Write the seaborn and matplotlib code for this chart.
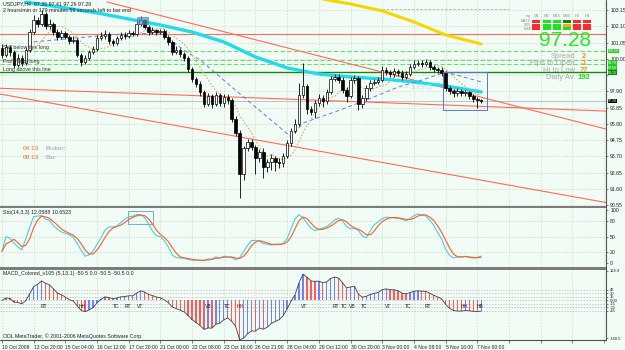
import numpy as np
import pandas as pd
import matplotlib
matplotlib.use("Agg")
import matplotlib.pyplot as plt
from matplotlib.patches import Rectangle
from matplotlib.lines import Line2D
import seaborn as sns

# ---------------- data (USDJPY H4) ----------------
opens = [100.70,100.25,100.76,100.44,99.60,100.05,99.73,100.57,101.73,102.50,
102.25,102.89,102.12,102.25,101.73,101.41,101.67,101.41,101.15,101.21,
100.25,99.80,100.05,100.44,100.63,101.34,101.47,101.60,101.15,101.02,
101.34,101.54,101.47,101.67,101.60,102.25,102.50,102.05,101.73,101.86,
101.73,101.80,101.41,101.09,100.44,100.57,100.31,100.05,99.34,98.70,
98.38,97.86,97.09,97.60,97.09,97.67,97.15,97.54,97.34,96.12,
95.21,92.57,94.25,94.63,94.31,93.60,93.99,93.02,93.34,93.60,
93.34,93.27,93.73,94.56,95.34,95.79,97.67,98.25,96.76,96.57,
97.15,97.47,97.28,97.86,98.70,98.83,98.63,97.99,97.60,98.63,
98.76,97.09,97.47,98.12,98.44,98.51,98.63,99.28,99.15,99.02,
99.22,99.09,98.83,99.02,99.47,99.67,99.73,99.67,99.80,99.47,
99.34,99.28,99.09,98.12,97.92,97.80,97.92,97.80,97.86,97.60,
97.41,97.34]
closes = [100.25,100.76,100.44,99.60,100.05,99.73,100.57,101.73,102.50,102.25,
102.89,102.12,102.25,101.73,101.41,101.67,101.41,101.15,101.21,100.25,
99.80,100.05,100.44,100.63,101.34,101.47,101.60,101.15,101.02,101.34,
101.54,101.47,101.67,101.60,102.25,102.50,102.05,101.73,101.86,101.73,
101.80,101.41,101.09,100.44,100.57,100.31,100.05,99.34,98.70,98.38,
97.86,97.09,97.60,97.09,97.67,97.15,97.54,97.34,96.12,95.21,
92.57,94.25,94.63,94.31,93.60,93.99,93.02,93.34,93.60,93.34,
93.27,93.73,94.56,95.34,95.79,97.67,98.25,96.76,96.57,97.15,
97.47,97.28,97.86,98.70,98.83,98.63,97.99,97.60,98.63,98.76,
97.09,97.47,98.12,98.44,98.51,98.63,99.28,99.15,99.02,99.22,
99.09,98.83,99.02,99.47,99.67,99.73,99.67,99.80,99.47,99.34,
99.28,99.09,98.12,97.92,97.80,97.92,97.80,97.86,97.60,97.41,
97.34,97.28]
highs = [100.95,100.98,100.90,100.60,100.30,100.22,100.75,101.95,102.80,102.70,
103.15,103.00,102.55,102.40,101.90,101.85,101.80,101.55,101.45,101.35,
100.40,100.25,100.60,100.85,101.55,101.75,101.85,101.70,101.30,101.50,
101.70,101.70,101.85,101.80,102.45,102.75,102.60,102.15,102.05,101.95,
101.95,101.90,101.55,101.20,100.80,100.70,100.45,100.15,99.45,98.85,
98.55,98.00,97.80,97.75,97.85,97.80,97.70,97.70,97.45,96.30,
95.40,94.40,94.85,94.80,94.45,94.20,94.25,93.55,93.85,93.75,
93.60,93.95,94.75,95.55,96.10,98.44,99.73,98.40,96.95,97.35,
97.70,97.65,98.05,98.90,99.05,99.00,98.80,98.15,98.85,98.95,
98.90,97.65,98.30,98.65,98.70,98.85,99.55,99.45,99.30,99.40,
99.35,99.25,99.20,99.65,99.90,99.95,99.90,100.00,99.90,99.60,
99.50,99.45,99.20,98.25,98.05,98.10,98.05,98.00,97.95,97.70,
97.55,97.40]
lows = [100.05,100.12,100.20,99.40,99.45,99.55,99.62,100.45,101.60,102.05,
102.10,101.95,101.90,101.55,101.20,101.30,101.25,100.95,101.00,100.10,
99.55,99.65,99.90,100.30,100.50,101.20,101.30,100.95,100.85,100.90,
101.20,101.30,101.35,101.45,101.50,102.10,101.90,101.55,101.60,101.55,
101.60,101.25,100.90,100.25,100.30,100.10,99.85,99.15,98.50,98.15,
97.60,96.90,96.95,96.85,96.95,96.95,96.90,97.10,95.95,95.00,
91.02,92.20,94.05,94.10,92.60,93.35,92.30,92.70,92.85,92.75,
92.95,93.05,93.60,94.40,95.20,95.65,97.50,96.45,96.35,96.20,
96.95,96.90,97.10,97.75,98.55,98.45,97.80,97.20,97.45,98.45,
96.70,96.85,97.30,97.95,98.30,98.35,98.50,98.95,98.80,98.85,
98.90,98.65,98.70,98.90,99.35,99.55,99.50,99.55,99.30,99.15,
99.10,98.90,97.95,97.70,97.55,97.60,97.60,97.60,97.40,97.20,
96.83,97.15]

date_labels = ["10 Oct 2008", "13 Oct 20:00", "15 Oct 04:00", "16 Oct 12:00",
               "17 Oct 20:00", "21 Oct 00:00", "22 Oct 08:00", "23 Oct 16:00",
               "26 Oct 21:00", "28 Oct 04:00", "29 Oct 12:00", "30 Oct 20:00",
               "3 Nov 00:00", "4 Nov 08:00", "5 Nov 16:00", "7 Nov 00:00"]
price_ticks = [103.15, 102.10, 101.05, 100.00, 98.95, 97.90, 96.85, 95.80,
               94.75, 93.70, 92.65, 91.60, 90.55]
sto_ticks = [100, 80, 50, 20, 0]
macd_levels = [45, 30, 15, 0, -15, -30, -45]
macd_extremes = [124.9, -160.5]

# long moving averages
cyan_bars = [6, 16, 24, 32, 40, 48, 56, 64, 72, 80, 88, 96, 104, 112, 121]
cyan_vals = [103.66, 103.28, 102.96, 102.57, 102.18, 101.73, 101.09, 100.12,
             99.41, 99.02, 98.83, 98.70, 98.51, 98.25, 97.86]
yellow_bars = [81, 88, 96, 104, 112, 121]
yellow_vals = [103.85, 103.54, 103.09, 102.38, 101.54, 100.96]
blue_bars = [8, 27, 40, 47, 50, 53, 58, 67, 73, 76, 84, 92, 100, 106, 112, 121]
blue_vals = [101.09, 101.54, 101.67, 100.38, 99.93, 99.28, 98.18, 96.25, 94.96,
             95.86, 96.57, 97.34, 98.18, 98.63, 99.15, 98.51]

# trend lines (start bar, start price, end bar, end price)
trend_lines = [(26.5, 103.67, 152.5, 95.47),
               (-0.5, 98.10, 152.5, 96.63),
               (-0.5, 97.73, 152.5, 90.73)]
grey_dashed = (95, 103.22, 128, 103.22)
red_level = 101.60
green_dashed_levels = [100.50, 99.92, 99.67]
green_solid_level = 99.15
bid = 97.28

macd_marks = [(10.6, "RT"), (20.2, "HH"), (28.8, "TC"), (31.8, "RT"), (34.8, "VT"),
              (52.0, "VB"), (57.0, "TC"), (60.0, "HH"), (76.3, "VT"), (84.3, "RT"),
              (86.4, "TC"), (88.4, "VB"), (91.4, "TC"), (97.5, "VT"), (102.5, "TC"),
              (107.6, "RT"), (116.7, "HH"), (120.7, "HB")]

sig_cols = ["M1", "M5", "M15", "M30", "H1", "H4"]
sig_rows = ["MACD", "STR", "EMA"]
sig_colors = [["r", "g", "g", "d", "r", "r"],
              ["r", "g", "g", "o", "r", "r"],
              ["r", "g", "g", "g", "r", "r"]]

# ---------------- style ----------------
sns.set_theme(style="white")
plt.rcParams['font.family'] = ['Liberation Sans', 'DejaVu Sans']
BG = '#f2fcf7'
GRID = '#cdd8a8'

o = np.array(opens); c = np.array(closes); h = np.array(highs); l = np.array(lows)
n = len(c)
xb = np.arange(n)
df = pd.DataFrame({"bar": xb, "open": o, "high": h, "low": l, "close": c})

# indicators computed from the price arrays
df["ma8"] = df["close"].rolling(8).mean()
ll = df["low"].rolling(14, min_periods=1).min()
hh = df["high"].rolling(14, min_periods=1).max()
num = (df["close"] - ll).rolling(3, min_periods=1).sum()
den = (hh - ll).rolling(3, min_periods=1).sum()
df["k"] = 100 * num / den
df["d"] = df["k"].rolling(3, min_periods=1).mean()
ema5 = df["close"].ewm(span=5, adjust=False).mean()
ema13 = df["close"].ewm(span=13, adjust=False).mean()
df["macd"] = (ema5 - ema13) * 100

W, H = 625, 350
fig = plt.figure(figsize=(6.25, 3.5), dpi=100)
fig.patch.set_facecolor(BG)

def fx(x): return x / W
def fy(y): return 1 - y / H

ax_m = fig.add_axes([0, fy(205.5), fx(606), 205.5 / H])
ax_s = fig.add_axes([0, fy(266.5), fx(606), 58.5 / H])
ax_d = fig.add_axes([0, fy(340), fx(606), 70.5 / H])

XL = (-0.5, 152.5)
for ax in (ax_m, ax_s, ax_d):
    ax.set_facecolor(BG)
    ax.set_xlim(*XL)
    for s in ax.spines.values():
        s.set_visible(False)
    ax.yaxis.tick_right()
    ax.tick_params(axis='y', labelsize=3.7, length=1.5, width=0.4, pad=1.5,
                   colors='#202020', right=True)
    ax.set_xticks(np.arange(0, 153, 8))
    for g in np.arange(0, 153, 8):
        ax.axvline(g, color=GRID, lw=0.5, ls=(0, (2, 2)), zorder=0)

# ---------------- main panel ----------------
ax_m.set_ylim(90.537, 103.795)
ax_m.set_yticks(price_ticks)
# 98.95 sits under the dark-green level tag, as in the original
ax_m.set_yticklabels(["" if abs(v - 98.95) < 1e-6 else f"{v:.2f}" for v in price_ticks])
ax_m.tick_params(axis='x', bottom=False, labelbottom=False)
for v in price_ticks:
    ax_m.axhline(v, color=GRID, lw=0.5, ls=(0, (2, 2)), zorder=0)

for lv in green_dashed_levels:
    ax_m.axhline(lv, color='#66e066', lw=0.8, ls=(0, (4, 2)), zorder=1)
ax_m.axhline(green_solid_level, color='#108a10', lw=1.0, zorder=1)
ax_m.axhline(red_level, color='#ff6a5a', lw=0.8, zorder=1)
ax_m.axhline(bid, color='#b8b8b8', lw=0.6, zorder=1)
for (x0, y0, x1, y1) in trend_lines:
    ax_m.plot([x0, x1], [y0, y1], color='#ff6a5a', lw=0.8, zorder=1)
ax_m.plot([grey_dashed[0], grey_dashed[2]], [grey_dashed[1], grey_dashed[3]],
          color='#b0b0b0', lw=0.6, ls=(0, (3, 2)), zorder=1)

sns.lineplot(x=yellow_bars, y=yellow_vals, ax=ax_m, color='#f2d800', lw=2.2, zorder=2)
sns.lineplot(x=cyan_bars, y=cyan_vals, ax=ax_m, color='#22dbe8', lw=2.4, zorder=2)
sns.lineplot(x=blue_bars, y=blue_vals, ax=ax_m, color='#6a78d8', lw=0.7,
             linestyle=(0, (4, 3)), zorder=2)
sns.lineplot(data=df, x="bar", y="ma8", ax=ax_m, color='#c8b070', lw=0.8,
             linestyle=(0, (1.5, 1.5)), zorder=2)

up = c >= o
ax_m.vlines(xb, l, h, color='black', lw=0.6, zorder=3)
body = np.maximum(np.abs(c - o), 0.02)
ax_m.bar(xb[up], body[up], bottom=o[up], width=0.62, color='white',
         edgecolor='black', lw=0.5, zorder=4)
ax_m.bar(xb[~up], body[~up], bottom=c[~up], width=0.62, color='black',
         edgecolor='black', lw=0.5, zorder=4)

ax_m.add_patch(Rectangle((34.1, 102.25), 2.8, 0.43, facecolor='#5b8fc8',
                         edgecolor='#4a7ab0', alpha=0.7, lw=0.6, zorder=5))
ax_m.add_patch(Rectangle((111.4, 96.70), 11.1, 2.45, facecolor='none',
                         edgecolor='#6070e0', lw=0.7, zorder=5))
ax_m.text(100.0, 98.12, "<-- 179.5", color='#a8e6ee', fontsize=6, va='center',
          zorder=5)
ax_m.set_xlabel(""); ax_m.set_ylabel("")

# ---------------- stochastic panel ----------------
ax_s.set_ylim(-6.6, 103.8)
ax_s.set_yticks(sto_ticks)
ax_s.set_yticklabels([str(v) for v in sto_ticks])
ax_s.tick_params(axis='x', bottom=False, labelbottom=False)
for v in (80, 50, 20):
    ax_s.axhline(v, color=GRID, lw=0.5, ls=(0, (2, 2)), zorder=0)
sns.lineplot(data=df, x="bar", y="k", ax=ax_s, color='#48d0d8', lw=0.8)
sns.lineplot(data=df, x="bar", y="d", ax=ax_s, color='#ff5a30', lw=0.8)
ax_s.add_patch(Rectangle((31.8, 74), 6.3, 24, facecolor='none',
                         edgecolor='#80a8c8', lw=0.7))
ax_s.set_xlabel(""); ax_s.set_ylabel("")

# ---------------- MACD panel ----------------
ax_d.set_ylim(-169, 131)
mt = macd_extremes[:1] + macd_levels + macd_extremes[1:]
ax_d.set_yticks(mt)
ax_d.set_yticklabels(["124.9"] + [("0.00" if v == 0 else str(v)) for v in macd_levels] + ["-160.5"])
ax_d.tick_params(axis='y', labelsize=3.0)
for v in macd_levels:
    ax_d.axhline(v, color='#b4b4b4', lw=0.5, ls=(0, (2, 2)), zorder=0)
mv = df["macd"].values
cols = ['#ff5a5a' if (i > 0 and mv[i] < mv[i - 1]) else '#7080ff' for i in range(n)]
ax_d.bar(xb, mv, width=0.34, color=cols, edgecolor='none', linewidth=0, zorder=2)
sns.lineplot(data=df, x="bar", y="macd", ax=ax_d, color='#404040', lw=0.6, zorder=3)
for bx, t in macd_marks:
    ax_d.text(bx, -28, t, fontsize=3.6, ha='center', va='center',
              color='#c00000' if (t == "HH" and bx == 60.0) else '#202020', zorder=4)
ax_d.set_xticklabels([date_labels[i] if i < len(date_labels) else "" for i in range(20)])
for lab in ax_d.get_xticklabels():
    lab.set_horizontalalignment('left')
ax_d.tick_params(axis='x', labelsize=3.6, length=2, width=0.4, pad=1.5,
                 colors='#202020', bottom=True)
ax_d.set_xlabel(""); ax_d.set_ylabel("")

# ---------------- frame / separators ----------------
fig.add_artist(Rectangle((0, fy(208)), fx(606), 2.5 / H, transform=fig.transFigure,
                         facecolor='#7c7c7c', edgecolor='none'))
fig.add_artist(Rectangle((0, fy(269.5)), fx(606), 3 / H, transform=fig.transFigure,
                         facecolor='#7c7c7c', edgecolor='none'))
fig.add_artist(Line2D([fx(606), fx(606)], [fy(0), fy(340)], transform=fig.transFigure,
                      color='#505050', lw=0.8))
fig.add_artist(Line2D([0, fx(606)], [fy(340), fy(340)], transform=fig.transFigure,
                      color='#505050', lw=0.8))

# ---------------- texts ----------------
fs = 3.8
fig.text(fx(3), fy(4), "USDJPY,H4  97.36 97.41 97.26 97.28", fontsize=fs, va='center', color='#202020')
fig.text(fx(3), fy(10), "2 hours/min or 179 minutes 59 seconds left to bar end", fontsize=fs,
         va='center', color='#202020')
fig.text(fx(3), fy(48), "Sell below this long", fontsize=fs, va='center', color='#303030')
fig.text(fx(3), fy(61), "Profit Take long", fontsize=fs, va='center', color='#303030')
fig.text(fx(3), fy(70), "Long above this line", fontsize=fs, va='center', color='#303030')
fig.text(fx(23), fy(149), "04:13", fontsize=4.6, va='center', color='#e07030')
fig.text(fx(46), fy(149), "Broker:", fontsize=4.6, va='center', color='#a0a0a0')
fig.text(fx(23), fy(157), "00:13", fontsize=4.6, va='center', color='#e07030')
fig.text(fx(46), fy(157), "Bar:", fontsize=4.6, va='center', color='#a0a0a0')
fig.text(fx(3), fy(212), "Sto(14,3,3) 12.0588 10.6523", fontsize=fs, va='center', color='#202020')
fig.text(fx(3), fy(273.5), "MACD_Colored_v105 (5,13,1) -50.5 0.0 -50.5 -50.5 0.0", fontsize=fs,
         va='center', color='#202020')
fig.text(fx(3), fy(336), "ODL MetaTrader, \u00a9 2001-2006 MetaQuotes Software Corp.", fontsize=fs,
         va='center', color='#202020')

# signal grid
colx = [536, 547, 557, 567, 577, 587]
cmap = {"r": '#ff2a2a', "g": '#22e022', "d": '#0a8a0a', "o": '#ffa020'}
fig.text(fx(531), fy(16), "sig", fontsize=3, ha='right', va='center', color='#909090')
for j, name in enumerate(sig_cols):
    fig.text(fx(colx[j]), fy(16), name, fontsize=3, ha='center', va='center', color='#909090')
for i, rname in enumerate(sig_rows):
    yy = 21.5 + 3.6 * i
    fig.text(fx(531), fy(yy), rname, fontsize=2.6, ha='right', va='center', color='#909090')
    for j in range(len(sig_cols)):
        fig.add_artist(Rectangle((fx(colx[j] - 4), fy(yy + 1.4)), 8 / W, 2.8 / H,
                                 transform=fig.transFigure, facecolor=cmap[sig_colors[i][j]],
                                 edgecolor='none'))
fig.text(fx(591), fy(41), "97.28", fontsize=15, ha='right', va='center', color='#22ee22')
rows = [("Spread", "2", '#ff8c1a'), ("Pips to Open", "-1", '#ff8c1a'),
        ("Hi to Low", "77", '#ff8c1a'), ("Daily Av.", "192", '#22dd22')]
for k, (lab, val, col) in enumerate(rows):
    yy = 56 + 7.3 * k
    fig.text(fx(575), fy(yy), lab, fontsize=5.5, ha='right', va='center', color='#a8a8a8')
    fig.text(fx(584), fy(yy), val, fontsize=5.5, ha='center', va='center', color=col,
             fontweight='bold')

# right axis tags
tags = [(51, "100.50", '#22cc22'), (62.7, "99.79", '#22cc22'), (67.6, "99.59", '#22cc22'),
        (72.5, "99.15", '#0a8a0a'), (101, "97.28", '#000000')]
for yy, t, col in tags:
    fig.text(fx(608), fy(yy), t, fontsize=2.6, ha='left', va='center', color='white',
             bbox=dict(boxstyle='square,pad=0.08', facecolor=col, edgecolor='none'))

fig.savefig("out.png", dpi=100, facecolor=fig.get_facecolor())
